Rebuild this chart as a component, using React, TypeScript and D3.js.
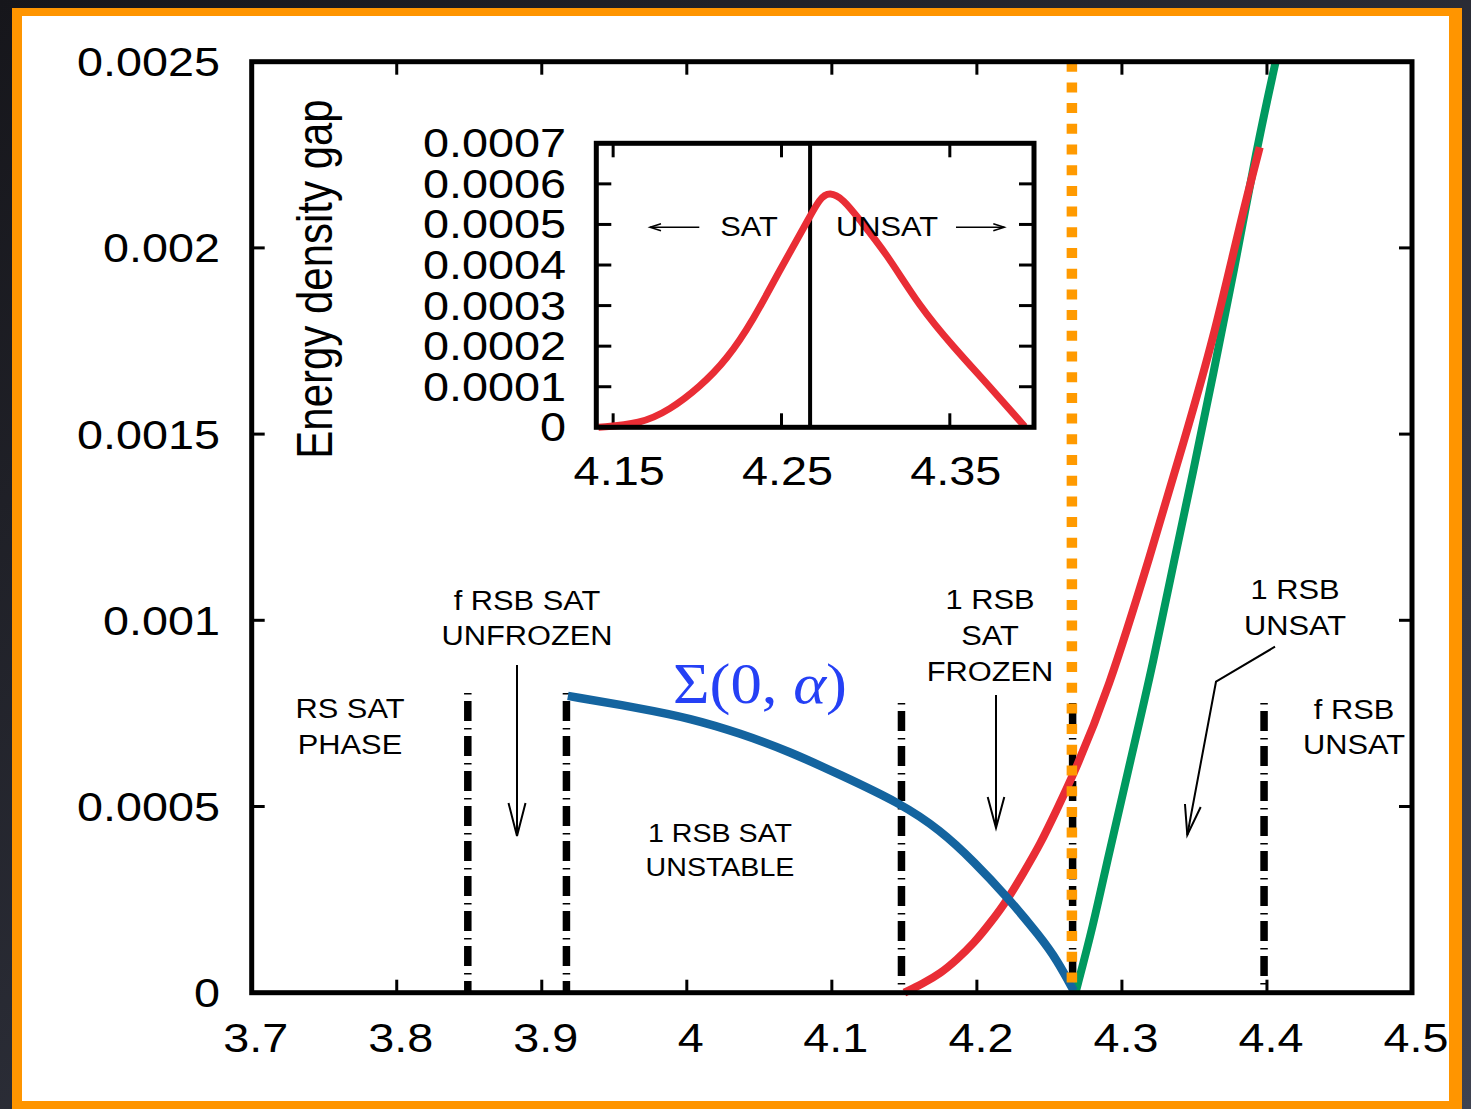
import React from "react";
import * as d3 from "d3";

const W = 1471;
const H = 1109;

// main panel axes
const mainXTicks = [3.7, 3.8, 3.9, 4.0, 4.1, 4.2, 4.3, 4.4, 4.5];
const mainXLabels = ["3.7", "3.8", "3.9", "4", "4.1", "4.2", "4.3", "4.4", "4.5"];
const mainYTicks = [0, 0.0005, 0.001, 0.0015, 0.002, 0.0025];
const mainYLabels = ["0", "0.0005", "0.001", "0.0015", "0.002", "0.0025"];

// complexity Sigma(0, alpha) (blue)
const sigmaAlpha = [3.918, 3.9678, 4.0023, 4.0367, 4.0712, 4.1057, 4.1471, 4.1747, 4.198, 4.2207, 4.2437, 4.2552, 4.2668];
const sigmaValue = [0.000797, 0.000764, 0.000737, 0.000697, 0.000647, 0.000585, 0.000509, 0.000437, 0.000352, 0.000258, 0.00015, 0.000088, 0.000005];

// red curve (main panel)
const redAlpha = [4.15, 4.163, 4.175, 4.186, 4.198, 4.209, 4.221, 4.232, 4.244, 4.255, 4.267, 4.29, 4.32, 4.343, 4.363, 4.382, 4.395];
const redValue = [0, 0.000025, 0.000052, 0.000088, 0.000133, 0.000186, 0.000249, 0.000321, 0.000401, 0.000491, 0.000589, 0.000804, 0.00118, 0.001484, 0.001753, 0.002075, 0.00227];

// green curve (main panel)
const greenAlpha = [4.268, 4.28, 4.29, 4.306, 4.322, 4.336, 4.349, 4.363, 4.377, 4.393, 4.406];
const greenValue = [0, 0.000177, 0.000356, 0.000625, 0.000893, 0.001162, 0.001395, 0.001663, 0.001932, 0.00227, 0.0025];

// phase transition lines
const transAlpha = [3.849, 3.917, 4.148, 4.266, 4.398];
const transTop = [0.000805, 0.000805, 0.000778, 0.000778, 0.000778];
const alphaC = 4.2655;

// inset: energy density gap
const insetXTicks = [4.15, 4.25, 4.35];
const insetXLabels = ["4.15", "4.25", "4.35"];
const insetYTicks = [0, 0.0001, 0.0002, 0.0003, 0.0004, 0.0005, 0.0006, 0.0007];
const insetYLabels = ["0", "0.0001", "0.0002", "0.0003", "0.0004", "0.0005", "0.0006", "0.0007"];
const gapAlpha = [4.1413, 4.166, 4.1838, 4.2016, 4.2174, 4.2332, 4.249, 4.2648, 4.2728, 4.2787, 4.2866, 4.2965, 4.3123, 4.3321, 4.3519, 4.3737, 4.3945];
const gapValue = [0, 0.000008, 0.000043, 0.0001, 0.000166, 0.000264, 0.000388, 0.000503, 0.000566, 0.00058, 0.000563, 0.000511, 0.000429, 0.000297, 0.000199, 0.0001, 0.000002];
const insetAlphaC = 4.267;

const SANS = "'Liberation Sans', Arial, Helvetica, sans-serif";

const zip = (a: number[], b: number[]) => a.map((v, i) => [v, b[i]] as [number, number]);

function Txt({ x, y, size, sx = 1.12, anchor = "middle", children }: any) {
  return (
    <text
      transform={`translate(${x},${y}) scale(${sx},1)`}
      fontSize={size}
      fontFamily={SANS}
      textAnchor={anchor}
      fill="#000"
    >
      {children}
    </text>
  );
}

// open "V" arrow head at (x2,y2) pointing along (x1,y1)->(x2,y2)
function head(x1: number, y1: number, x2: number, y2: number, len: number, half: number) {
  const dx = x2 - x1, dy = y2 - y1;
  const l = Math.hypot(dx, dy);
  const ux = dx / l, uy = dy / l;
  const bx = x2 - ux * len, by = y2 - uy * len;
  return `M${bx - uy * half},${by + ux * half}L${x2},${y2}L${bx + uy * half},${by - ux * half}`;
}

export default function App() {
  const x = d3.scaleLinear().domain([3.7, 4.5]).range([251.7, 1412]);
  const y = d3.scaleLinear().domain([0, 0.0025]).range([992.7, 61.7]);
  const ix = d3.scaleLinear().domain([4.14, 4.4]).range([596.3, 1034]);
  const iy = d3.scaleLinear().domain([0, 0.0007]).range([427.3, 143.3]);

  const mainLine = d3.line<[number, number]>().x(d => x(d[0])).y(d => y(d[1])).curve(d3.curveBasis);
  const insetLine = d3.line<[number, number]>().x(d => ix(d[0])).y(d => iy(d[1])).curve(d3.curveBasis);

  const [x0, x1] = x.range();
  const [y0, y1] = y.range();
  const [ix0, ix1] = ix.range();
  const [iy0, iy1] = iy.range();

  return (
    <svg width={W} height={H} style={{ position: "absolute", left: 0, top: 0, display: "block" }}>
      <defs>
        <linearGradient id="bg" x1="0" y1="0" x2="1" y2="1">
          <stop offset="0" stopColor="#16161b" />
          <stop offset="1" stopColor="#3e4250" />
        </linearGradient>
      </defs>
      <rect width={W} height={H} fill="url(#bg)" />
      <rect x={12} y={8} width={1450} height={H - 8} fill="#ff9500" />
      <rect x={22} y={16} width={1427} height={1085} fill="#fff" />

      {/* main ticks */}
      <g stroke="#000" strokeWidth={3}>
        {mainXTicks.slice(1, -1).map(t => (
          <g key={"xt" + t}>
            <line x1={x(t)} x2={x(t)} y1={y0} y2={y0 - 13} />
            <line x1={x(t)} x2={x(t)} y1={y1} y2={y1 + 13} />
          </g>
        ))}
        {mainYTicks.slice(1, -1).map(t => (
          <g key={"yt" + t}>
            <line x1={x0} x2={x0 + 13} y1={y(t)} y2={y(t)} />
            <line x1={x1} x2={x1 - 13} y1={y(t)} y2={y(t)} />
          </g>
        ))}
      </g>

      {/* tick labels */}
      {mainXTicks.map((t, i) => (
        <Txt key={"xl" + t} x={x(t) + 4} y={1052} size={41} sx={1.14}>{mainXLabels[i]}</Txt>
      ))}
      {mainYTicks.map((t, i) => (
        <Txt key={"yl" + t} x={220} y={y(t) + 14.5} size={41} sx={1.14} anchor="end">{mainYLabels[i]}</Txt>
      ))}

      {/* phase transition lines */}
      {transAlpha.map((a, i) => (
        <line
          key={"tr" + a}
          x1={x(a)} x2={x(a)} y1={y(transTop[i])} y2={y0}
          stroke="#000" strokeWidth={7.5} strokeDasharray="1.5 6.5 20 7"
        />
      ))}

      {/* curves */}
      <path d={mainLine(zip(greenAlpha, greenValue)) || ""} fill="none" stroke="#00995f" strokeWidth={8} />
      <path d={mainLine(zip(redAlpha, redValue)) || ""} fill="none" stroke="#e92d35" strokeWidth={8} />
      <path d={mainLine(zip(sigmaAlpha, sigmaValue)) || ""} fill="none" stroke="#14649f" strokeWidth={8.5} />

      {/* alpha_c dotted line */}
      <line x1={x(alphaC)} x2={x(alphaC)} y1={y1} y2={y0} stroke="#ff9a00" strokeWidth={10.5} strokeDasharray="10 10.7" />

      {/* main frame */}
      <rect x={x0} y={y1} width={x1 - x0} height={y0 - y1} fill="none" stroke="#000" strokeWidth={5} />

      {/* annotations */}
      <Txt x={350} y={717.5} size={28} sx={1.1}>RS SAT</Txt>
      <Txt x={350} y={754} size={28} sx={1.1}>PHASE</Txt>
      <Txt x={527} y={609.5} size={28} sx={1.1}>f RSB SAT</Txt>
      <Txt x={527} y={645} size={28} sx={1.1}>UNFROZEN</Txt>
      <Txt x={720} y={841.5} size={26} sx={1.1}>1 RSB SAT</Txt>
      <Txt x={720} y={875.5} size={26} sx={1.1}>UNSTABLE</Txt>
      <Txt x={990} y={609} size={28} sx={1.1}>1 RSB</Txt>
      <Txt x={990} y={645} size={28} sx={1.1}>SAT</Txt>
      <Txt x={990} y={680.5} size={28} sx={1.1}>FROZEN</Txt>
      <Txt x={1295} y={599} size={28} sx={1.1}>1 RSB</Txt>
      <Txt x={1295} y={635} size={28} sx={1.1}>UNSAT</Txt>
      <Txt x={1354} y={718.5} size={28} sx={1.1}>f RSB</Txt>
      <Txt x={1354} y={753.5} size={28} sx={1.1}>UNSAT</Txt>

      <g fill="none" stroke="#000" strokeWidth={2}>
        <line x1={517} y1={665} x2={517} y2={836} />
        <path d={head(517, 665, 517, 836, 33, 8.5)} />
        <line x1={996} y1={695} x2={996} y2={828} />
        <path d={head(996, 695, 996, 828, 31, 8.3)} />
        <polyline points="1275,646.7 1216,681.7 1187.3,835" />
        <path d={head(1216, 681.7, 1187.3, 835, 30, 8)} />
      </g>

      <text
        x={673}
        y={703}
        fontSize={56}
        fontFamily="'Liberation Serif', 'DejaVu Serif', serif"
        fill="#2540f5"
        textLength={174}
        lengthAdjust="spacingAndGlyphs"
      >
        Σ(0, <tspan fontStyle="italic">α</tspan>)
      </text>

      {/* axis title */}
      <text
        transform={`translate(331.5,279) rotate(-90) scale(1,1.17)`}
        fontSize={42}
        fontFamily={SANS}
        textAnchor="middle"
        fill="#000"
      >
        Energy density gap
      </text>

      {/* inset */}
      <rect x={ix0} y={iy1} width={ix1 - ix0} height={iy0 - iy1} fill="#fff" />
      <g stroke="#000" strokeWidth={3}>
        {insetXTicks.map(t => (
          <g key={"ixt" + t}>
            <line x1={ix(t)} x2={ix(t)} y1={iy0} y2={iy0 - 14} />
            <line x1={ix(t)} x2={ix(t)} y1={iy1} y2={iy1 + 14} />
          </g>
        ))}
        {insetYTicks.slice(1, -1).map(t => (
          <g key={"iyt" + t}>
            <line x1={ix0} x2={ix0 + 15} y1={iy(t)} y2={iy(t)} />
            <line x1={ix1} x2={ix1 - 15} y1={iy(t)} y2={iy(t)} />
          </g>
        ))}
      </g>
      {insetXTicks.map((t, i) => (
        <Txt key={"ixl" + t} x={ix(t) + 6} y={485} size={40} sx={1.17}>{insetXLabels[i]}</Txt>
      ))}
      {insetYTicks.map((t, i) => (
        <Txt key={"iyl" + t} x={566} y={iy(t) + 14} size={40} sx={1.17} anchor="end">{insetYLabels[i]}</Txt>
      ))}

      <line x1={ix(insetAlphaC)} x2={ix(insetAlphaC)} y1={iy0} y2={iy1} stroke="#000" strokeWidth={4} />
      <path d={insetLine(zip(gapAlpha, gapValue)) || ""} fill="none" stroke="#e92d35" strokeWidth={7} />

      <Txt x={749} y={235.5} size={28} sx={1.1}>SAT</Txt>
      <Txt x={887} y={235.5} size={28} sx={1.1}>UNSAT</Txt>
      <g fill="none" stroke="#000" strokeWidth={1.5}>
        <line x1={699.3} y1={227.3} x2={650} y2={227.3} />
        <path d={head(699.3, 227.3, 650, 227.3, 11, 3.5)} />
        <line x1={956} y1={227.3} x2={1004.3} y2={227.3} />
        <path d={head(956, 227.3, 1004.3, 227.3, 11, 3.5)} />
      </g>

      <rect x={ix0} y={iy1} width={ix1 - ix0} height={iy0 - iy1} fill="none" stroke="#000" strokeWidth={5} />
    </svg>
  );
}
